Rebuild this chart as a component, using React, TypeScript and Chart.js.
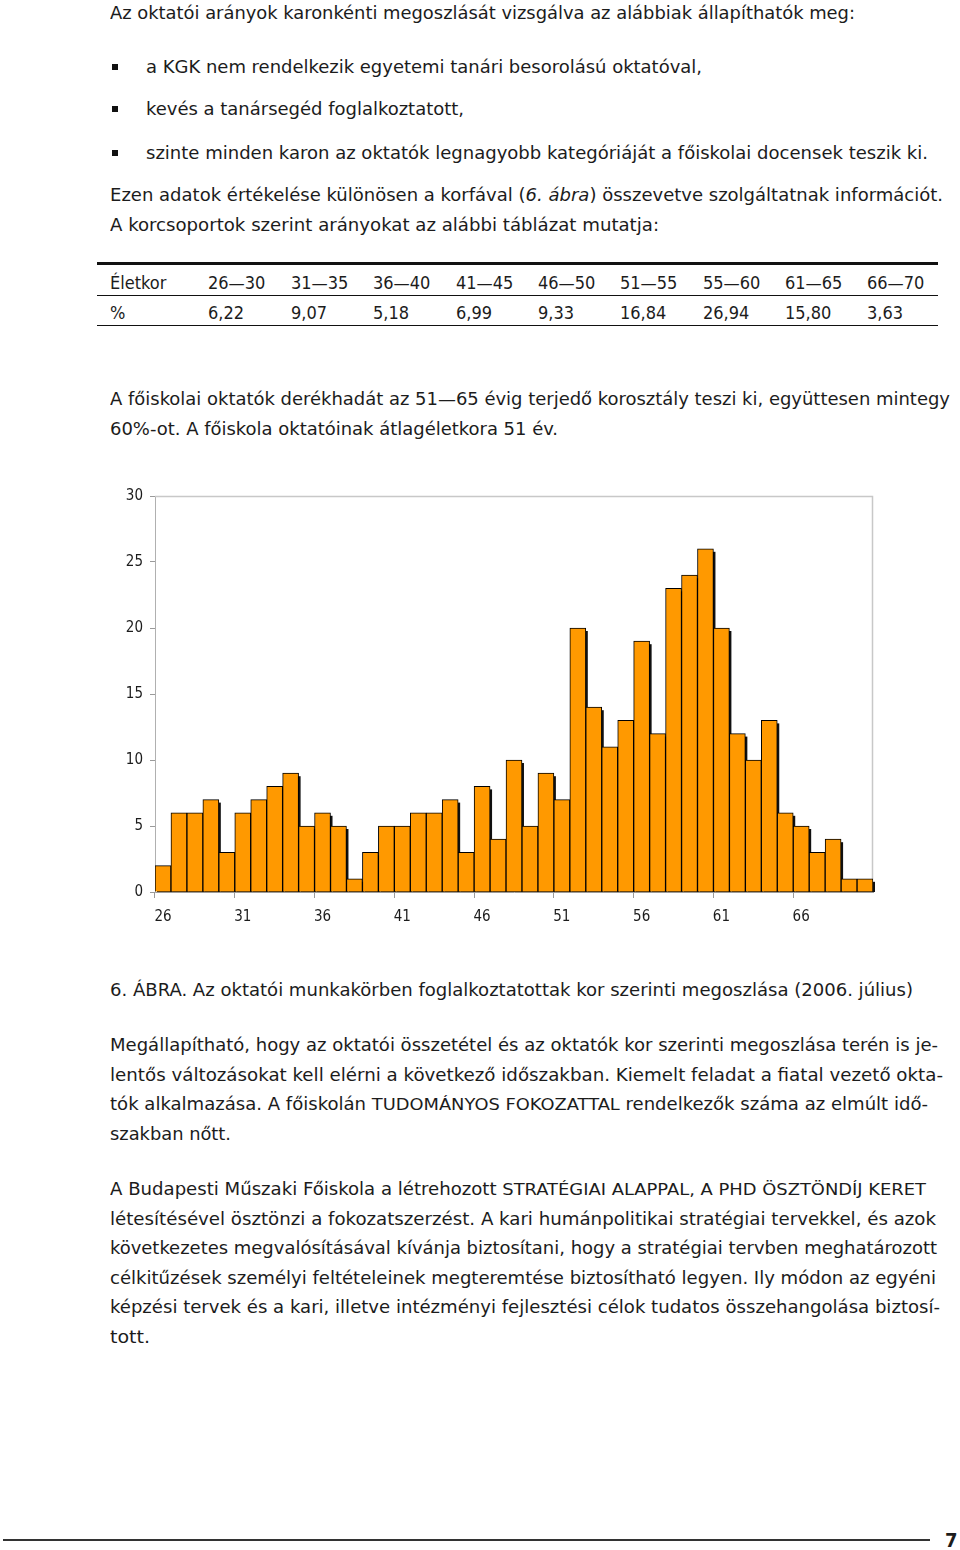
import React, { useEffect, useLayoutEffect, useRef } from "react";
import { Chart, registerables } from "chart.js";

Chart.register(...registerables);

// ---- chart data ----
const ages = [
  "26", "27", "28", "29", "30", "31", "32", "33", "34", "35",
  "36", "37", "38", "39", "40", "41", "42", "43", "44", "45",
  "46", "47", "48", "49", "50", "51", "52", "53", "54", "55",
  "56", "57", "58", "59", "60", "61", "62", "63", "64", "65",
  "66", "67", "68", "69", "70",
];
const counts = [
  2, 6, 6, 7, 3, 6, 7, 8, 9, 5,
  6, 5, 1, 3, 5, 5, 6, 6, 7, 3,
  8, 4, 10, 5, 9, 7, 20, 14, 11, 13,
  19, 12, 23, 24, 26, 20, 12, 10, 13, 6,
  5, 3, 4, 1, 1,
];
const yTicks = [0, 5, 10, 15, 20, 25, 30];

// ---- table data ----
const tableAges = ["26—30", "31—35", "36—40", "41—45", "46—50", "51—55", "55—60", "61—65", "66—70"];
const tablePct = ["6,22", "9,07", "5,18", "6,99", "9,33", "16,84", "26,94", "15,80", "3,63"];

const FONT = "'DejaVu Sans Condensed', 'DejaVu Sans', sans-serif";
const TEXT = "#1c1c1c";

function Line(props: { x: number; y: number; w?: number; size?: number; children: React.ReactNode; bold?: boolean }) {
  const ref = useRef<HTMLDivElement>(null);
  const { x, y, w, size = 18, children, bold } = props;
  useLayoutEffect(() => {
    const el = ref.current;
    if (!el || !w) return;
    el.style.transform = "none";
    const actual = el.getBoundingClientRect().width;
    if (actual > 0) el.style.transform = `scaleX(${w / actual})`;
  }, [w]);
  return (
    <div
      ref={ref}
      style={{
        position: "absolute",
        left: x,
        top: y - 11.5,
        whiteSpace: "nowrap",
        fontSize: size,
        lineHeight: "22px",
        transformOrigin: "0 0",
        display: "inline-block",
        fontFamily: FONT,
        color: TEXT,
        fontWeight: bold ? "bold" : "normal",
      }}
    >
      {children}
    </div>
  );
}

const Wide = (p: { children: React.ReactNode }) => (
  <span style={{ fontFamily: "'DejaVu Sans', sans-serif", fontSize: 16 }}>{p.children}</span>
);

function Bullet({ y }: { y: number }) {
  return <div style={{ position: "absolute", left: 112, top: y - 3, width: 6, height: 6, background: "#111" }} />;
}

function HLine({ x1, x2, y, t, c = "#111" }: { x1: number; x2: number; y: number; t: number; c?: string }) {
  return <div style={{ position: "absolute", left: x1, top: y, width: x2 - x1, height: t, background: c }} />;
}

function BarChart() {
  const canvasRef = useRef<HTMLCanvasElement>(null);
  useEffect(() => {
    const canvas = canvasRef.current;
    if (!canvas) return;
    const framePlugin = {
      id: "frame",
      beforeDatasetsDraw(chart: any) {
        const { ctx, chartArea } = chart;
        ctx.save();
        ctx.strokeStyle = "#c8c8c8";
        ctx.lineWidth = 1.5;
        ctx.beginPath();
        ctx.moveTo(chartArea.left, chartArea.top + 0.5);
        ctx.lineTo(chartArea.right - 0.5, chartArea.top + 0.5);
        ctx.lineTo(chartArea.right - 0.5, chartArea.bottom);
        ctx.stroke();
        // drop shadows of the bars (taken from the bar elements' own geometry)
        const meta = chart.getDatasetMeta(0);
        ctx.beginPath();
        ctx.rect(chartArea.left, chartArea.top, chartArea.right - chartArea.left + 3, chartArea.bottom - chartArea.top);
        ctx.clip();
        ctx.fillStyle = "#111";
        meta.data.forEach((bar: any) => {
          const p = bar.getProps(["x", "y", "base", "width"], true);
          const left = p.x - p.width / 2 + 2;
          const top = Math.min(p.y, p.base) + 3;
          ctx.fillRect(left, top, p.width, Math.abs(p.base - p.y));
        });
        ctx.restore();
      },
    };
    const chart = new Chart(canvas, {
      type: "bar",
      data: {
        labels: ages,
        datasets: [
          {
            data: counts,
            backgroundColor: "#FF9900",
            borderColor: "#000000",
            borderWidth: { left: 1, top: 1, right: 1, bottom: 0 } as any,
            borderSkipped: "start",
            barPercentage: 1,
            categoryPercentage: 1,
          },
        ],
      },
      options: {
        animation: false,
        responsive: false,
        layout: { padding: { left: 0, top: 15, right: 27, bottom: 0 } },
        plugins: { legend: { display: false }, tooltip: { enabled: false } },
        scales: {
          x: {
            type: "category",
            grid: {
              display: true,
              offset: true,
              drawOnChartArea: false,
              drawTicks: true,
              tickLength: 6,
              color: (ctx: any) => (ctx.index !== undefined && ctx.index % 5 === 0 ? "#9a9a9a" : "rgba(0,0,0,0)"),
            },
            border: { display: true, color: "#9a9a9a" },
            ticks: {
              autoSkip: false,
              maxRotation: 0,
              padding: 10,
              color: TEXT,
              font: { family: FONT, size: 15 },
              callback: (_v: any, i: number) => (i % 5 === 0 ? ages[i] : ""),
            },
            afterFit: (s: any) => {
              s.height = 48;
            },
          },
          y: {
            min: 0,
            max: 30,
            grid: { display: true, drawOnChartArea: false, drawTicks: true, tickLength: 5, color: "#9a9a9a" },
            border: { display: true, color: "#b0b0b0" },
            afterBuildTicks: (s: any) => {
              s.ticks = yTicks.map((v) => ({ value: v }));
            },
            ticks: {
              padding: 7,
              color: TEXT,
              font: { family: FONT, size: 15 },
            },
            afterFit: (s: any) => {
              s.width = 55;
            },
          },
        },
      },
      plugins: [framePlugin],
    });
    return () => chart.destroy();
  }, []);
  return (
    <div style={{ position: "absolute", left: 100, top: 480, width: 800, height: 460 }}>
      <canvas ref={canvasRef} width={800} height={460} style={{ width: 800, height: 460 }} />
    </div>
  );
}

export default function App() {
  const colX = [208, 291, 373, 456, 538, 620, 703, 785, 867];
  return (
    <div style={{ position: "absolute", left: 0, top: 0, width: 960, height: 1550, background: "#fff", fontFamily: FONT }}>
      <Line x={110} y={13} w={745}>Az oktatói arányok karonkénti megoszlását vizsgálva az alábbiak állapíthatók meg:</Line>

      <Bullet y={67} />
      <Line x={146} y={67} w={556}>a KGK nem rendelkezik egyetemi tanári besorolású oktatóval,</Line>
      <Bullet y={109} />
      <Line x={146} y={109} w={318}>kevés a tanársegéd foglalkoztatott,</Line>
      <Bullet y={153} />
      <Line x={146} y={153} w={782}>szinte minden karon az oktatók legnagyobb kategóriáját a főiskolai docensek teszik ki.</Line>

      <Line x={110} y={195} w={833}>
        Ezen adatok értékelése különösen a korfával (<i>6. ábra</i>) összevetve szolgáltatnak információt.
      </Line>
      <Line x={110} y={225} w={549}>A korcsoportok szerint arányokat az alábbi táblázat mutatja:</Line>

      {/* table */}
      <HLine x1={97} x2={938} y={262} t={3} />
      <HLine x1={97} x2={938} y={295} t={1} />
      <HLine x1={97} x2={938} y={325} t={1} />
      <Line x={110} y={283}>Életkor</Line>
      {tableAges.map((a, i) => (
        <Line key={"a" + i} x={colX[i]} y={283}>{a}</Line>
      ))}
      <Line x={110} y={313}>%</Line>
      {tablePct.map((p, i) => (
        <Line key={"p" + i} x={colX[i]} y={313}>{p}</Line>
      ))}

      <Line x={110} y={399} w={840}>
        A főiskolai oktatók derékhadát az 51—65 évig terjedő korosztály teszi ki, együttesen mintegy
      </Line>
      <Line x={110} y={429} w={448}>60%-ot. A főiskola oktatóinak átlagéletkora 51 év.</Line>

      <BarChart />

      <Line x={110} y={990} w={803}>
        6. ÁBRA. Az oktatói munkakörben foglalkoztatottak kor szerinti megoszlása (2006. július)
      </Line>

      <Line x={110} y={1045} w={828}>
        Megállapítható, hogy az oktatói összetétel és az oktatók kor szerinti megoszlása terén is je-
      </Line>
      <Line x={110} y={1075} w={833}>
        lentős változásokat kell elérni a következő időszakban. Kiemelt feladat a fiatal vezető okta-
      </Line>
      <Line x={110} y={1104} w={818}>
        tók alkalmazása. A főiskolán <Wide>TUDOMÁNYOS FOKOZATTAL</Wide> rendelkezők száma az elmúlt idő-
      </Line>
      <Line x={110} y={1134} w={121}>szakban nőtt.</Line>

      <Line x={110} y={1189} w={816}>
        A Budapesti Műszaki Főiskola a létrehozott <Wide>STRATÉGIAI ALAPPAL, A PHD ÖSZTÖNDÍJ KERET</Wide>
      </Line>
      <Line x={110} y={1219} w={826}>
        létesítésével ösztönzi a fokozatszerzést. A kari humánpolitikai stratégiai tervekkel, és azok
      </Line>
      <Line x={110} y={1248} w={827}>
        következetes megvalósításával kívánja biztosítani, hogy a stratégiai tervben meghatározott
      </Line>
      <Line x={110} y={1278} w={826}>
        célkitűzések személyi feltételeinek megteremtése biztosítható legyen. Ily módon az egyéni
      </Line>
      <Line x={110} y={1307} w={830}>
        képzési tervek és a kari, illetve intézményi fejlesztési célok tudatos összehangolása biztosí-
      </Line>
      <Line x={110} y={1337} w={40}>tott.</Line>

      {/* footer */}
      <HLine x1={3} x2={930} y={1539} t={2} c="#333" />
      <Line x={945} y={1540} size={20} bold>7</Line>
    </div>
  );
}
